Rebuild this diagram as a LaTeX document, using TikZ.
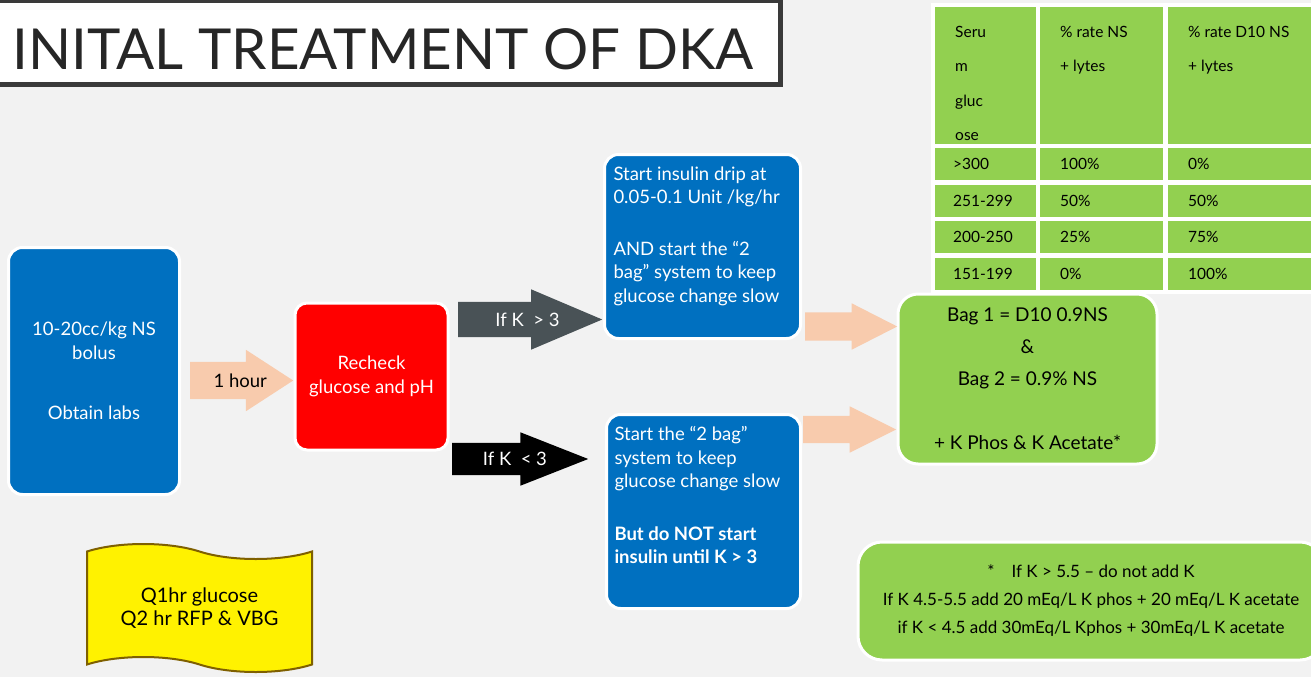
\documentclass[tikz,border=0pt]{standalone}
\usepackage{fontspec}
\setmainfont{Lato}
\usepackage{tikz}
\usetikzlibrary{shapes.arrows, shapes.symbols, calc}
\definecolor{dkablue}{HTML}{0070C0}
\definecolor{dkared}{HTML}{FF0000}
\definecolor{dkagreen}{HTML}{92D050}
\definecolor{dkapeach}{HTML}{F8CBAD}
\definecolor{dkaslate}{HTML}{495256}
\definecolor{dkabrown}{HTML}{7F6000}
\definecolor{dkabg}{HTML}{F2F2F2}
\definecolor{dkaframe}{HTML}{3A3A3A}
\tikzstyle{stepbox} = [rectangle, rounded corners=14pt, draw=white, line width=3pt, text=white, align=center, font=\fontsize{18.5}{23.5}\selectfont]
\tikzstyle{bluebox} = [stepbox, fill=dkablue, anchor=north west, inner xsep=9pt, inner ysep=12pt]
\tikzstyle{greenbox} = [stepbox, fill=dkagreen, text=black, font=\fontsize{19}{32}\selectfont]
\tikzstyle{cell} = [rectangle, fill=dkagreen, anchor=north west, inner xsep=20pt, inner ysep=0pt, align=left, text=black, font=\fontsize{15.5}{34.5}\selectfont]
\tikzstyle{blockarrow} = [single arrow, anchor=tail, inner xsep=0pt, text height=13pt, text depth=0pt]
\tikzstyle{arrowtext} = [inner sep=0pt, font=\fontsize{18.5}{22}\selectfont]

\begin{document}
\begin{tikzpicture}[x=1pt, y=-1pt]
\useasboundingbox (0,0) rectangle (1311,677);
\fill[dkabg] (0,0) rectangle (1311,677);

% title
\draw[draw=dkaframe, fill=white, line width=5pt] (-10,1) rectangle (780,84);
\node (title) [anchor=base west, inner sep=0pt, text=black!85, font=\fontsize{56.5}{60}\selectfont] at (12,70) {INITAL TREATMENT OF DKA};

% table of fluid rates
\fill[white] (931,3) rectangle (1320,294);
\node (serumHead) [cell] at (935,7) {\parbox[c][137pt][t]{61pt}{\vspace*{19pt}Seru\\m\\gluc\\ose}};
\node (nsHead) [cell] at (1040,7) {\parbox[c][137pt][t]{83pt}{\vspace*{19pt}\% rate NS\\+ lytes}};
\node (dtenHead) [cell] at (1168,7) {\parbox[c][137pt][t]{112pt}{\vspace*{19pt}\% rate D10 NS\\+ lytes}};
\node (serumA) [cell, minimum height=32pt, text width=65pt, inner xsep=18pt] at (935,148) {>300};
\node (nsA) [cell, minimum height=32pt, text width=83pt] at (1040,148) {100\%};
\node (dtenA) [cell, minimum height=32pt, text width=112pt] at (1168,148) {0\%};
\node (serumB) [cell, minimum height=32pt, text width=65pt, inner xsep=18pt] at (935,185) {\mbox{251-299}};
\node (nsB) [cell, minimum height=32pt, text width=83pt] at (1040,185) {50\%};
\node (dtenB) [cell, minimum height=32pt, text width=112pt] at (1168,185) {50\%};
\node (serumC) [cell, minimum height=32pt, text width=65pt, inner xsep=18pt] at (935,221) {\mbox{200-250}};
\node (nsC) [cell, minimum height=32pt, text width=83pt] at (1040,221) {25\%};
\node (dtenC) [cell, minimum height=32pt, text width=112pt] at (1168,221) {75\%};
\node (serumD) [cell, minimum height=32pt, text width=65pt, inner xsep=18pt] at (935,258) {\mbox{151-199}};
\node (nsD) [cell, minimum height=32pt, text width=83pt] at (1040,258) {0\%};
\node (dtenD) [cell, minimum height=32pt, text width=112pt] at (1168,258) {100\%};

% flow
\node (bolus) [stepbox, fill=dkablue, minimum width=171pt, minimum height=247pt] at (94,371) {10-20cc/kg NS\\bolus\\[37pt]Obtain labs};
\node (recheck) [stepbox, fill=dkared, minimum width=153pt, minimum height=147pt, rounded corners=12pt] at (371.5,376.5) {Recheck\\glucose and pH};
\node (insulin) [bluebox] at (603,153) {\parbox[c][160pt][t]{178pt}{Start insulin drip at\\0.05-0.1 Unit /kg/hr\\[28pt]AND start the “2\\bag” system to keep\\glucose change slow}};
\node (noinsulin) [bluebox, inner xsep=8pt] at (605,413) {\parbox[c][170pt][t]{178pt}{Start the “2 bag”\\system to keep\\glucose change slow\\[29pt]\textbf{But do NOT start}\\\textbf{insulin until K > 3}}};
\node (bags) [greenbox, minimum width=259pt, minimum height=170pt, rounded corners=20pt] at (1027.5,379) {Bag 1 = D10 0.9NS\\\&\\Bag 2 = 0.9\% NS\\[32pt]+ K Phos \& K Acetate*};
\node (potnote) [greenbox, minimum width=466pt, minimum height=118pt, rounded corners=24pt, font=\fontsize{17}{28}\selectfont] at (1091,601) {*\quad If K > 5.5 – do not add K\\If K 4.5-5.5 add 20 mEq/L K phos + 20 mEq/L K acetate\\if K < 4.5 add 30mEq/L Kphos + 30mEq/L K acetate};
\node (monitor) [tape, draw=dkabrown, line width=2pt, fill=yellow, tape bend top=out and in, tape bend bottom=out and in, tape bend height=15pt, minimum width=225pt, minimum height=128pt, align=center, font=\fontsize{20}{23}\selectfont] at (199.5,608) {Q1hr glucose\\Q2 hr RFP \& VBG};

% block arrows
\node (hour) [blockarrow, fill=dkapeach, inner ysep=12pt, minimum height=103pt, minimum width=61pt, single arrow head extend=12pt, single arrow tip angle=66] at (190,380.5) {};
\node (kabove) [blockarrow, fill=dkaslate, inner ysep=11pt, minimum height=144pt, minimum width=60pt, single arrow head extend=12.5pt, single arrow tip angle=46] at (458,319.5) {};
\node (kbelow) [blockarrow, fill=black, inner ysep=9.5pt, minimum height=136pt, minimum width=53pt, single arrow head extend=10.5pt, single arrow tip angle=43] at (452,459) {};
\node (toBagsA) [blockarrow, fill=dkapeach, inner ysep=7.5pt, minimum height=92pt, minimum width=46pt, single arrow head extend=9pt, single arrow tip angle=54] at (805,326.5) {};
\node (toBagsB) [blockarrow, fill=dkapeach, inner ysep=7pt, minimum height=93pt, minimum width=46pt, single arrow head extend=9.5pt, single arrow tip angle=53] at (803,429.5) {};
\node (hourText) [arrowtext] at ($(hour.tail)!0.485!(hour.tip)$) {1 hour};
\node (kaboveText) [arrowtext, text=white] at ($(kabove.tail)!0.48!(kabove.tip)$) {If K\ \ > 3};
\node (kbelowText) [arrowtext, text=white] at ($(kbelow.tail)!0.46!(kbelow.tip)$) {If K\ \ < 3};
\end{tikzpicture}
\end{document}
